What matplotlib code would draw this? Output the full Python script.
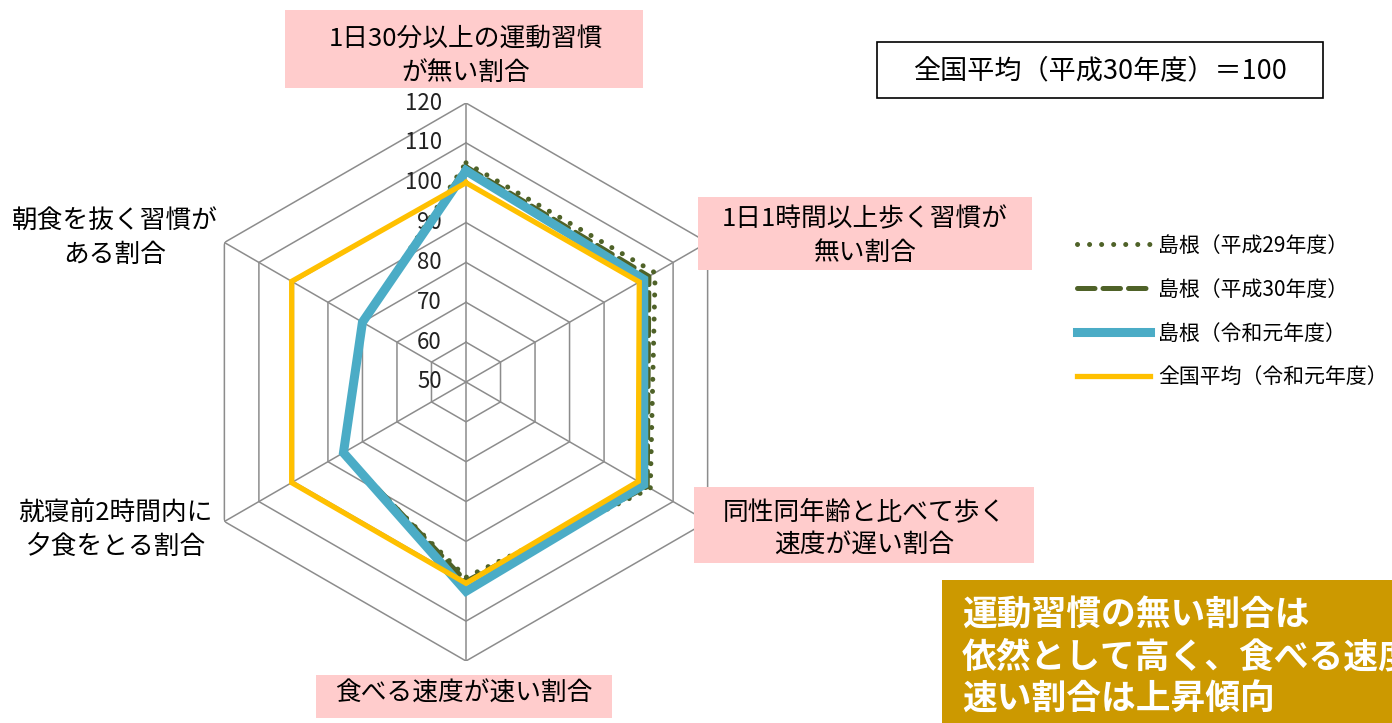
"""Radar chart: Shimane lifestyle habits vs national average."""
import numpy as np
import matplotlib
matplotlib.use('Agg')
import matplotlib.pyplot as plt
from matplotlib.patches import Rectangle

plt.rcParams['font.family'] = ['Noto Sans CJK JP', 'DejaVu Sans']

# axes, clockwise from the top
categories = ['1日30分以上の運動習慣が無い割合',
              '1日1時間以上歩く習慣が無い割合',
              '同性同年齢と比べて歩く速度が遅い割合',
              '食べる速度が速い割合',
              '就寝前2時間内に夕食をとる割合',
              '朝食を抜く習慣がある割合']
shimane_h29 = [105.0, 104.8, 103.4, 99.0, 86.0, 80.0]
shimane_h30 = [104.0, 103.0, 102.5, 100.0, 85.5, 80.0]
shimane_r1 = [103.0, 101.5, 101.5, 102.5, 85.5, 80.0]
national_r1 = [100.0, 100.2, 99.9, 100.5, 100.5, 100.5]
series_names = ['島根（平成29年度）', '島根（平成30年度）',
                '島根（令和元年度）', '全国平均（令和元年度）']
r_ticks = [50, 60, 70, 80, 90, 100, 110, 120]

GRID = '#8c8c8c'
OLIVE = '#4f6228'
BLUE = '#4bacc6'
YELLOW = '#ffc000'
PINK = '#ffcccc'
GOLD = '#cc9900'

W, H = 1392, 723
fig = plt.figure(figsize=(W / 100, H / 100), dpi=100)

# polar axes centred at (466, 382) px, radius 279 px for 120
cx, cy, rad = 466, 382, 279
ax = fig.add_axes([(cx - rad) / W, (H - cy - rad) / H, 2 * rad / W, 2 * rad / H],
                  projection='polar')
ax.set_theta_offset(np.pi / 2)
ax.set_theta_direction(-1)
ax.set_ylim(r_ticks[0], r_ticks[-1])
ax.grid(False)
ax.spines['polar'].set_visible(False)
ax.set_xticks([])
ax.set_yticks([])
ax.patch.set_alpha(0)

n = len(categories)
theta = np.linspace(0, 2 * np.pi, n, endpoint=False)
theta_c = np.append(theta, theta[0])

# hexagonal grid
for r in r_ticks[1:]:
    ax.plot(theta_c, [r] * (n + 1), color=GRID, lw=1.1, zorder=1)
for t in theta:
    ax.plot([t, t], [r_ticks[0], r_ticks[-1]], color=GRID, lw=1.1, zorder=1)
for r in r_ticks:
    ax.annotate(str(r), xy=(0, r), xytext=(-17.5, 0), textcoords='offset points',
                ha='right', va='center', fontsize=16, color='#222222',
                annotation_clip=False)


def closed(vals):
    return vals + vals[:1]


l1, = ax.plot(theta_c, closed(shimane_h29), color=OLIVE, lw=3.6,
              linestyle=(0, (0.01, 2.4)), dash_capstyle='round', zorder=3)
l2, = ax.plot(theta_c, closed(shimane_h30), color=OLIVE, lw=3.6,
              linestyle=(0, (3.5, 1.6)), dash_capstyle='round', zorder=4)
l3, = ax.plot(theta_c, closed(shimane_r1), color=BLUE, lw=6.5,
              solid_joinstyle='miter', zorder=5)
l4, = ax.plot(theta_c, closed(national_r1), color=YELLOW, lw=3.8,
              solid_joinstyle='miter', zorder=6)

fig.legend([l1, l2, l3, l4], series_names, loc='upper left',
           bbox_to_anchor=(1058 / W, 1 - 216 / H), frameon=False,
           fontsize=15, handlelength=3.5, handletextpad=0.4,
           labelspacing=1.05)


def box(x0, y0, x1, y1, **kw):
    fig.patches.append(Rectangle((x0 / W, 1 - y1 / H), (x1 - x0) / W,
                                 (y1 - y0) / H, transform=fig.transFigure,
                                 **kw))


def label(x, y, s, **kw):
    fig.text(x / W, 1 - y / H, s, ha='center', va='center',
             linespacing=1.4, **kw)


# category labels
box(285, 10, 643, 88, facecolor=PINK, edgecolor='none')
label(466, 56, '1日30分以上の運動習慣\nが無い割合', fontsize=18.5)
box(698, 197, 1032, 270, facecolor=PINK, edgecolor='none')
label(865, 236, '1日1時間以上歩く習慣が\n無い割合', fontsize=18.5)
box(694, 487, 1034, 563, facecolor=PINK, edgecolor='none')
label(864, 529, '同性同年齢と比べて歩く\n速度が遅い割合', fontsize=18.5)
box(316, 675, 612, 718, facecolor=PINK, edgecolor='none')
label(464, 694, '食べる速度が速い割合', fontsize=18.5)
label(115, 238, '朝食を抜く習慣が\nある割合', fontsize=18.5)
label(115, 530, '就寝前2時間内に\n夕食をとる割合', fontsize=18.5)

# reference note
box(877, 42, 1323, 98, facecolor='white', edgecolor='black', lw=1.2)
label(1100, 71, '全国平均（平成30年度）＝100', fontsize=19.5)

# comment box (runs past the right edge, as in the original slide)
box(942, 580, 1400, 730, facecolor=GOLD, edgecolor='none')
fig.text(962 / W, 1 - 657 / H, '運動習慣の無い割合は\n依然として高く、食べる速度が\n速い割合は上昇傾向',
         ha='left', va='center', fontsize=25, fontweight='bold', color='white',
         linespacing=1.25)

fig.savefig('out.png', dpi=100)
